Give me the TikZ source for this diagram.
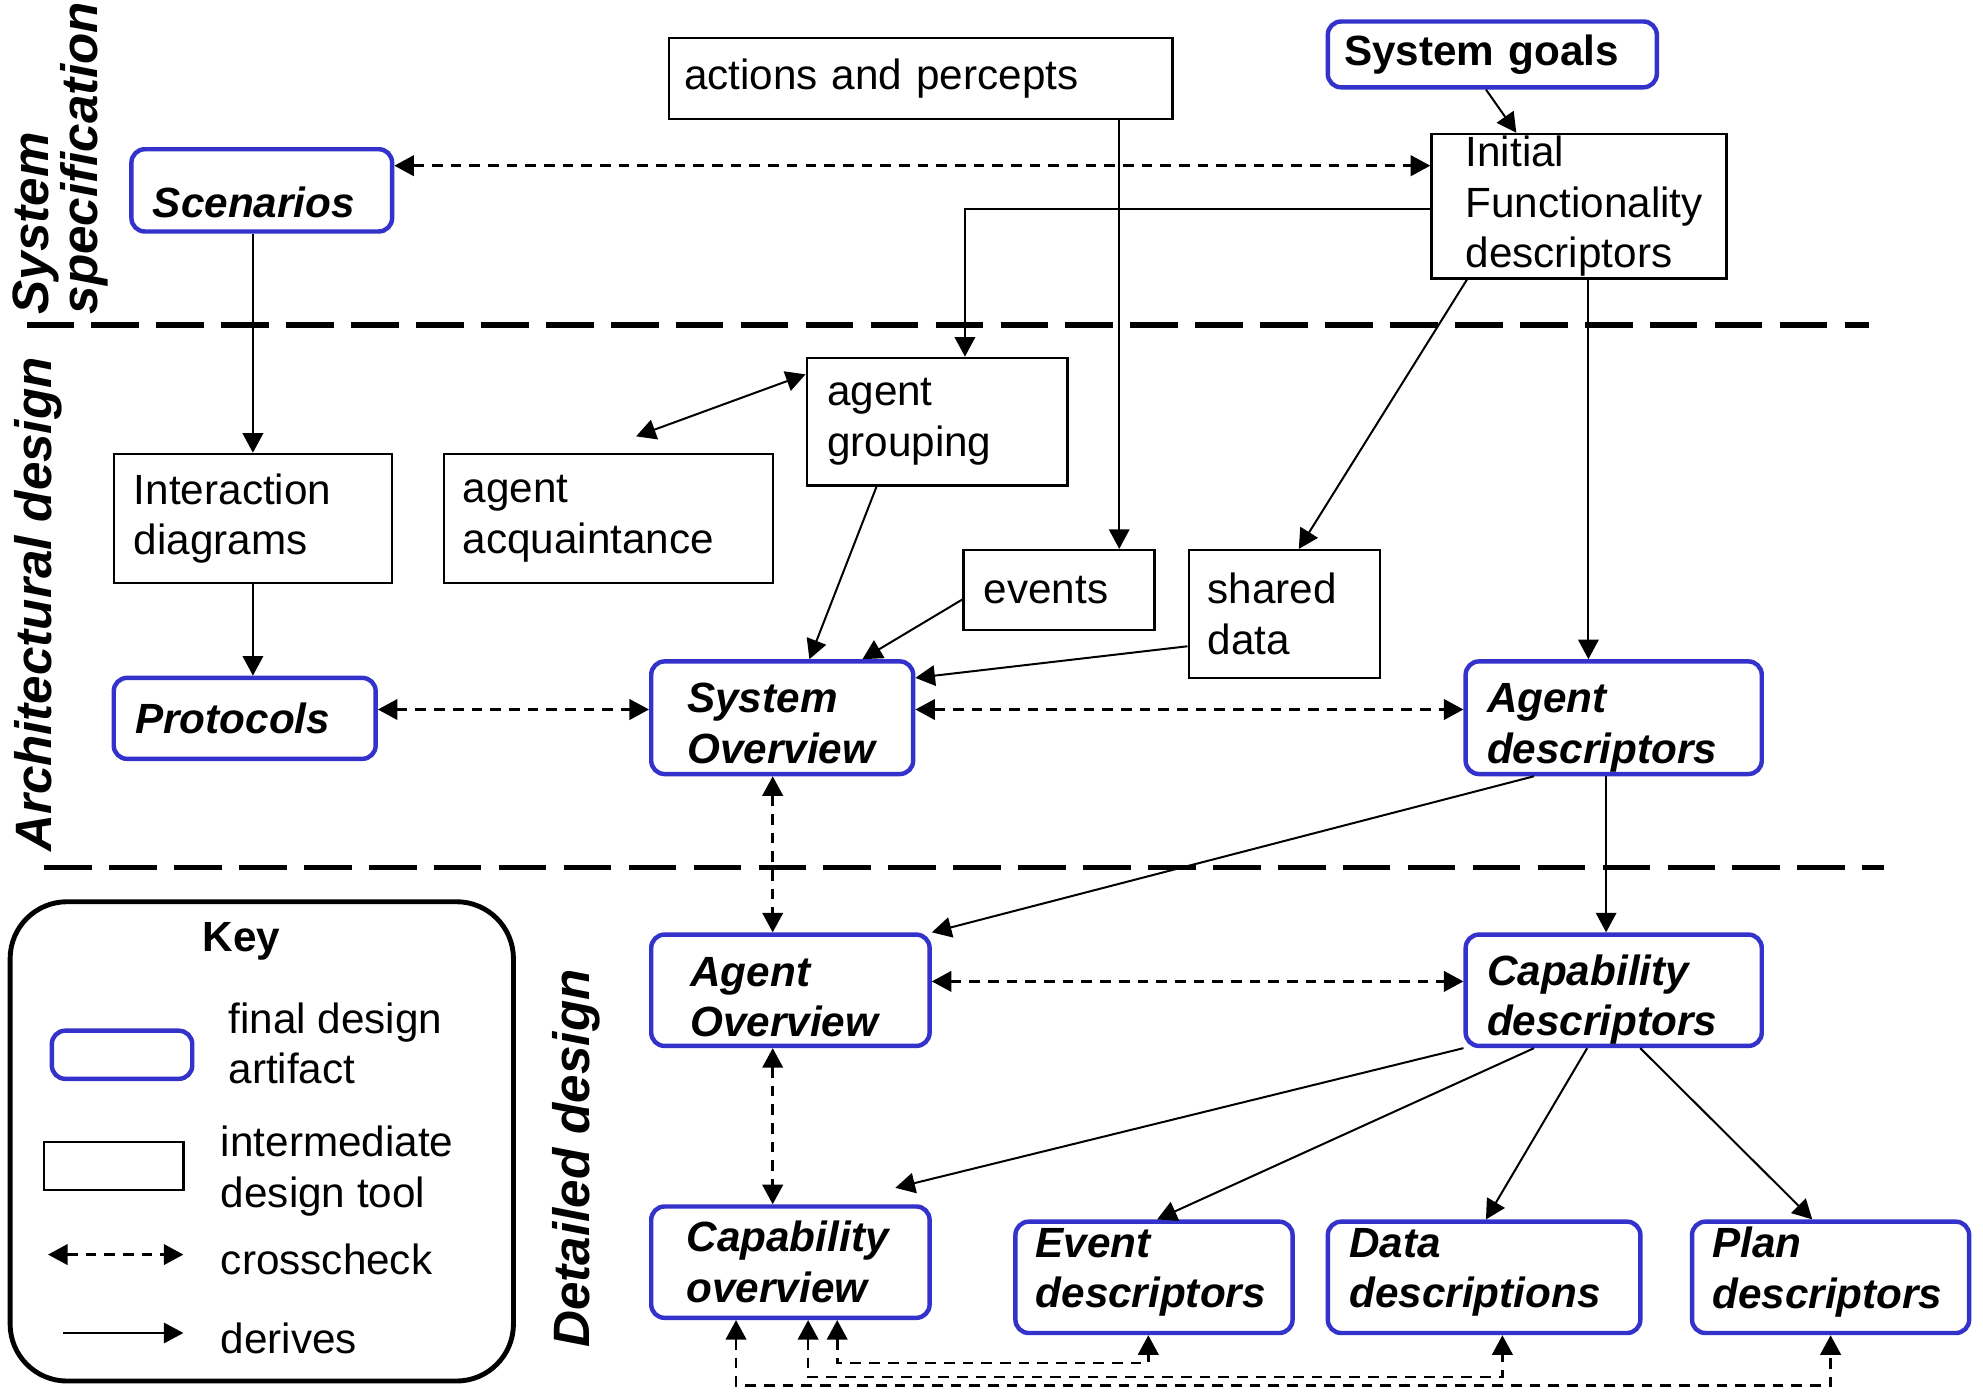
\documentclass[tikz,border=0pt]{standalone}
\usepackage{fontspec}
\setmainfont{Liberation Sans}
\usetikzlibrary{arrows.meta,calc}
\definecolor{artblue}{RGB}{51,51,204}
\newcommand{\diagfont}{\fontsize{9.5}{11.4}\selectfont}
\newcommand{\topstrut}[1]{\rule{0pt}{#1}}
\newcommand{\botstrut}[1]{\rule[-#1]{0pt}{#1}}
\tikzset{
  tool/.style={draw, line width=.55pt, align=left, inner ysep=0pt},
  artifact/.style={draw=artblue, line width=1pt, rounded corners=3pt, align=left, inner ysep=0pt, font=\diagfont\bfseries\itshape},
  derives/.style={-{Triangle[length=4.4pt,width=4.6pt]}, line width=.45pt},
  mutual/.style={{Triangle[length=4.4pt,width=4.6pt]}-{Triangle[length=4.4pt,width=4.6pt]}, line width=.45pt},
  crosscheck/.style={{Triangle[length=4.4pt,width=4.6pt]}-{Triangle[length=4.4pt,width=4.6pt]}, line width=.6pt, dash pattern=on 2.4pt off 1.8pt},
  phase/.style={rotate=90, font=\fontsize{11.5}{11}\selectfont\bfseries\itshape, align=left, inner sep=0pt},
  phaseline/.style={line width=1.2pt, dash pattern=on 10.7pt off 3.9pt},
}
\begin{document}
\begin{tikzpicture}[x=0.01cm, y=-0.01cm, font=\diagfont]
\useasboundingbox (0,0) rectangle (1568,1101.5);

\draw[phaseline] (21,257)--(1478,257);
\draw[phaseline] (35,686)--(1490,686);
\node[phase] (sysspec) at (48,125) {System\\specification};
\node[phase] (archdes) at (30,478) {Architectural design};
\node[phase] (detdes) at (456,916) {Detailed design};

\node[artifact, text width=1.72cm, inner xsep=.17cm, minimum height=.65cm, text height=12.2pt, text depth=0pt] (scen) at (207,150.5) {Scenarios};
\node[tool, text width=3.74cm, inner xsep=.12cm, minimum height=.64cm] (act) at (728,62) {actions and percepts};
\node[artifact, font=\diagfont\bfseries, text width=2.34cm, inner xsep=.13cm, minimum height=.52cm] (goals) at (1180,43) {System goals};
\node[tool, text width=1.79cm, inner xsep=.27cm, minimum height=1.14cm] (ifd) at (1248.5,163) {Initial\\\mbox{Functionality}\\descriptors};

\node[tool, text width=1.88cm, inner xsep=.16cm, minimum height=1.02cm] (inter) at (200,410) {Interaction\\diagrams};
\node[tool, text width=2.3cm, inner xsep=.15cm, minimum height=1.02cm] (acq) at (481,410) {agent\\acquaintance};
\node[tool, text width=1.74cm, inner xsep=.16cm, minimum height=1.01cm] (grp) at (741,333.5) {agent\\grouping};
\node[tool, text width=1.19cm, inner xsep=.16cm, minimum height=.63cm] (ev) at (837.5,466.5) {events};
\node[tool, text width=1.21cm, inner xsep=.15cm, minimum height=1.01cm] (shd) at (1015.5,485.5) {shared\\data};
\node[artifact, text width=1.73cm, inner xsep=.17cm, minimum height=.64cm] (prot) at (193.5,568) {Protocols};
\node[artifact, text width=1.5cm, inner xsep=.285cm, minimum height=.89cm] (sysov) at (618.5,567.5) {\topstrut{9.3pt}System\\Overview};
\node[artifact, text width=2cm, inner xsep=.17cm, minimum height=.89cm] (agdesc) at (1276,567.5) {\topstrut{11pt}Agent\\descriptors};

\node[artifact, text width=1.58cm, inner xsep=.31cm, minimum height=.88cm] (agov) at (625,783) {\topstrut{9.6pt}Agent\\Overview};
\node[artifact, text width=2cm, inner xsep=.17cm, minimum height=.88cm] (capdesc) at (1276,783) {\topstrut{11.1pt}Capability\\descriptors};
\node[artifact, text width=1.64cm, inner xsep=.28cm, minimum height=.88cm] (capov) at (625,998) {Capability\\overview};
\node[artifact, text width=1.87cm, inner xsep=.16cm, minimum height=.88cm] (evdesc) at (912.5,1010) {Event\\descriptors\botstrut{4.2pt}};
\node[artifact, text width=2.13cm, inner xsep=.17cm, minimum height=.88cm] (datadesc) at (1173.5,1010) {Data\\descriptions\botstrut{4.2pt}};
\node[artifact, text width=1.87cm, inner xsep=.16cm, minimum height=.88cm] (plandesc) at (1447.5,1010) {Plan\\descriptors\botstrut{4.2pt}};

\draw[crosscheck] ($(scen.east)+(0,-19.5)$)--($(ifd.west)+(0,-32)$);
\draw[derives] ($(goals.south)+(-5,0)$)--($(ifd.north)+(-49.5,0)$);
\draw[derives] ($(ifd.west)+(0,2)$) -| ($(grp.north)+(22,0)$);
\draw[derives] ($(act.south)+(157,0)$)--($(ev.north)+(47.5,0)$);
\draw[derives] ($(ifd.south)+(-88.5,0)$)--($(shd.north)+(11.5,0)$);
\draw[derives] ($(ifd.south)+(7.5,0)$)--($(agdesc.north)+(-20,0)$);
\draw[derives] ($(scen.south)+(-7,0)$)--(inter.north);
\draw[derives] (inter.south)--($(prot.north)+(6.5,0)$);
\draw[mutual] ($(acq.north)+(22,-13)$)--($(grp.west)+(0,-37.5)$);
\draw[derives] ($(grp.south)+(-48,0)$)--($(sysov.north)+(21.5,0)$);
\draw[derives] ($(ev.west)+(0,7.5)$)--($(sysov.north)+(63.5,0)$);
\draw[derives] ($(shd.west)+(0,25.5)$)--($(sysov.east)+(0,-31.5)$);
\draw[crosscheck] ($(prot.east)+(0,-7)$)--($(sysov.west)+(0,-6.5)$);
\draw[crosscheck] ($(sysov.east)+(0,-6.5)$)--($(agdesc.west)+(0,-6.5)$);
\draw[crosscheck] ($(sysov.south)+(-7.5,0)$)--($(agov.north)+(-14,0)$);
\draw[derives] ($(agdesc.south)+(-63,0)$)--(agov.north east);
\draw[derives] ($(agdesc.south)+(-6,0)$)--($(capdesc.north)+(-6,0)$);
\draw[crosscheck] ($(agov.east)+(0,-7)$)--($(capdesc.west)+(0,-7)$);
\draw[crosscheck] ($(agov.south)+(-14,0)$)--($(capov.north)+(-14,0)$);
\draw[derives] (capdesc.south west)--($(capov.north)+(83,-13)$);
\draw[derives] ($(capdesc.south)+(-63,0)$)--($(evdesc.north)+(2.5,0)$);
\draw[derives] ($(capdesc.south)+(-21,0)$)--($(datadesc.north)+(1.5,0)$);
\draw[derives] ($(capdesc.south)+(21,0)$)--($(plandesc.north)+(-14.5,0)$);
\draw[crosscheck] ($(capov.south)+(37,0)$) |- ($(evdesc.south)+(-4.5,22)$)--($(evdesc.south)+(-4.5,0)$);
\draw[crosscheck] ($(capov.south)+(14,0)$) |- ($(datadesc.south)+(14.5,33)$)--($(datadesc.south)+(14.5,0)$);
\draw[crosscheck] ($(capov.south)+(-43,0)$) |- ($(plandesc.south)+(0,40)$)--(plandesc.south);

\draw[line width=1.1pt, rounded corners=4.5mm] (8,713) rectangle (406,1092);
\node[font=\diagfont\bfseries] (keytitle) at (191,744) {Key};
\node[artifact, minimum width=1.11cm, minimum height=.38cm] (keyfinal) at (96.5,834) {};
\node[anchor=west, align=left, inner sep=0pt] (keyfinaltxt) at (180,825) {final design\\artifact};
\node[tool, minimum width=1.1cm, minimum height=.38cm] (keytool) at (90,922) {};
\node[anchor=west, align=left, inner sep=0pt] (keytooltxt) at (174,926) {intermediate\\design tool};
\coordinate (cc1) at (38,992);
\coordinate (cc2) at (145,992);
\draw[crosscheck] (cc1)--(cc2);
\node[anchor=west, inner sep=0pt] (keycctxt) at (174,996) {crosscheck};
\coordinate (dv1) at (50,1054);
\coordinate (dv2) at (145,1054);
\draw[derives] (dv1)--(dv2);
\node[anchor=west, inner sep=0pt] (keydvtxt) at (174,1058) {derives};
\end{tikzpicture}
\end{document}
